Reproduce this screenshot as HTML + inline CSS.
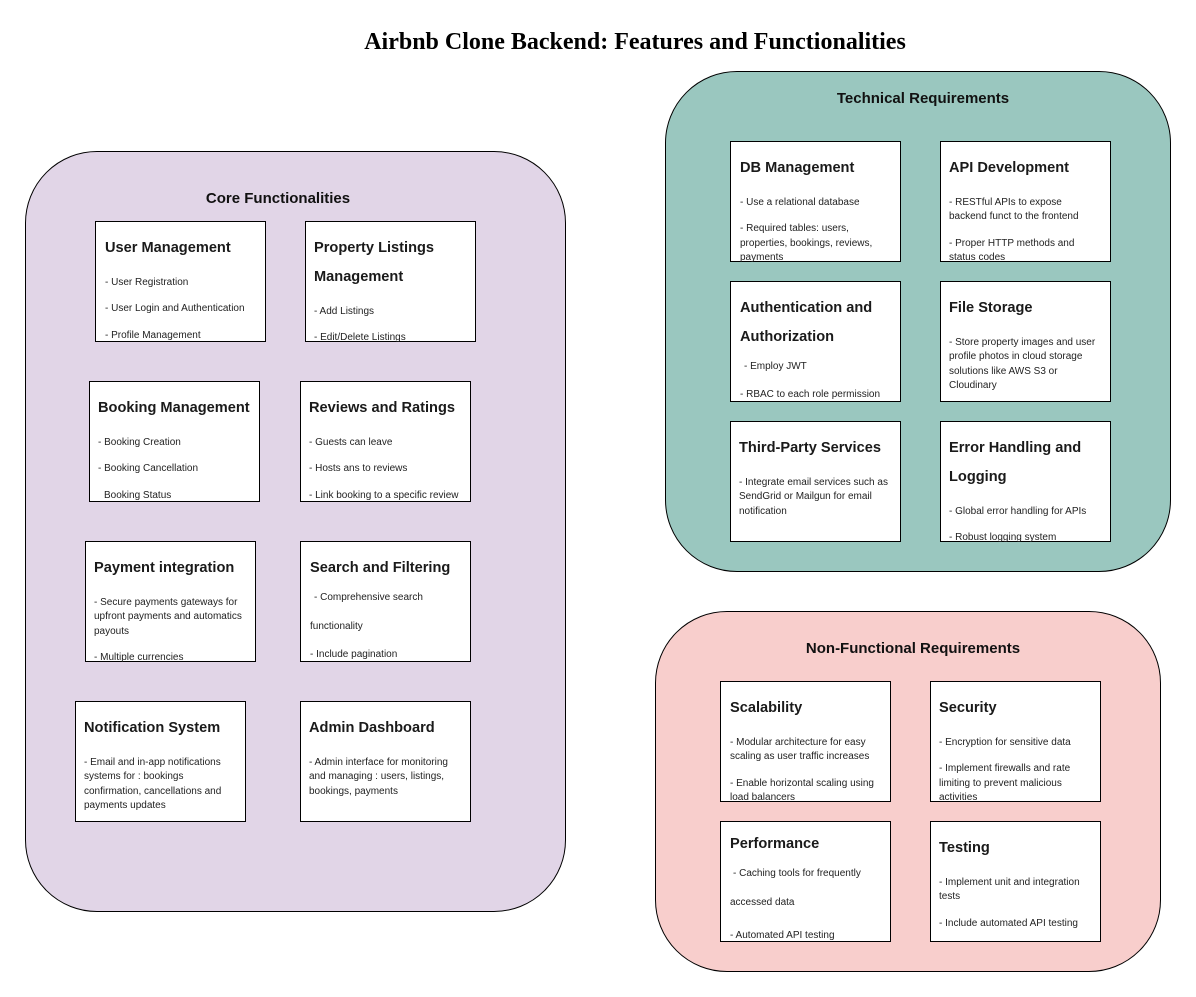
<!DOCTYPE html>
<html><head><meta charset="utf-8"><style>
body{margin:0;width:1196px;height:997px;background:#fff;position:relative;overflow:hidden;font-family:"Liberation Sans",sans-serif;color:#1a1a1a}
.c{position:absolute;border:1px solid #000;border-radius:72px;box-sizing:border-box}
.b{position:absolute;width:171px;height:121px;border:1px solid #000;background:#fff;box-sizing:border-box}
.t{position:absolute;font-weight:bold;font-size:14.6px;line-height:18px;white-space:nowrap;color:#1a1a1a;margin-top:2px}
.l{position:absolute;font-size:10px;line-height:12px;white-space:nowrap;color:#222;margin-top:2px}
.h{position:absolute;font-weight:bold;font-size:15px;line-height:18px;white-space:nowrap;transform:translateX(-50%);color:#111;margin-top:2px}
</style></head><body>
<div style="position:absolute;left:635px;top:27px;transform:translateX(-50%);font-family:'Liberation Serif',serif;font-weight:bold;font-size:24px;line-height:30px;white-space:nowrap;color:#000">Airbnb Clone Backend: Features and Functionalities</div>

<div class="c" style="left:25px;top:151px;width:541px;height:761px;background:#e1d5e7"></div>
<div class="c" style="left:665px;top:71px;width:506px;height:501px;background:#9ac7bf"></div>
<div class="c" style="left:655px;top:611px;width:506px;height:361px;background:#f8cecc"></div>

<div class="h" style="left:278px;top:188px">Core Functionalities</div>
<div class="h" style="left:923px;top:88px">Technical Requirements</div>
<div class="h" style="left:913px;top:638px">Non-Functional Requirements</div>

<div class="b" style="left:95px;top:221px"></div>
<div class="b" style="left:305px;top:221px"></div>
<div class="b" style="left:89px;top:381px"></div>
<div class="b" style="left:300px;top:381px"></div>
<div class="b" style="left:85px;top:541px"></div>
<div class="b" style="left:300px;top:541px"></div>
<div class="b" style="left:75px;top:701px"></div>
<div class="b" style="left:300px;top:701px"></div>
<div class="b" style="left:730px;top:141px"></div>
<div class="b" style="left:940px;top:141px"></div>
<div class="b" style="left:730px;top:281px"></div>
<div class="b" style="left:940px;top:281px"></div>
<div class="b" style="left:730px;top:421px"></div>
<div class="b" style="left:940px;top:421px"></div>
<div class="b" style="left:720px;top:681px"></div>
<div class="b" style="left:930px;top:681px"></div>
<div class="b" style="left:720px;top:821px"></div>
<div class="b" style="left:930px;top:821px"></div>

<!-- Core -->
<div class="t" style="left:105px;top:237px">User Management</div>
<div class="l" style="left:105px;top:275px">- User Registration</div>
<div class="l" style="left:105px;top:301px">- User Login and Authentication</div>
<div class="l" style="left:105px;top:328px">- Profile Management</div>

<div class="t" style="left:314px;top:237px">Property Listings</div>
<div class="t" style="left:314px;top:266px">Management</div>
<div class="l" style="left:314px;top:304px">- Add Listings</div>
<div class="l" style="left:314px;top:330px">- Edit/Delete Listings</div>

<div class="t" style="left:98px;top:397px">Booking Management</div>
<div class="l" style="left:98px;top:435px">- Booking Creation</div>
<div class="l" style="left:98px;top:461px">- Booking Cancellation</div>
<div class="l" style="left:104px;top:488px">Booking Status</div>

<div class="t" style="left:309px;top:397px">Reviews and Ratings</div>
<div class="l" style="left:309px;top:435px">- Guests can leave</div>
<div class="l" style="left:309px;top:461px">- Hosts ans to reviews</div>
<div class="l" style="left:309px;top:488px">- Link booking to a specific review</div>

<div class="t" style="left:94px;top:557px">Payment integration</div>
<div class="l" style="left:94px;top:595px">- Secure payments gateways for</div>
<div class="l" style="left:94px;top:609px">upfront payments and automatics</div>
<div class="l" style="left:94px;top:624px">payouts</div>
<div class="l" style="left:94px;top:650px">- Multiple currencies</div>

<div class="t" style="left:310px;top:557px">Search and Filtering</div>
<div class="l" style="left:314px;top:590px">- Comprehensive search</div>
<div class="l" style="left:310px;top:619px">functionality</div>
<div class="l" style="left:310px;top:647px">- Include pagination</div>

<div class="t" style="left:84px;top:717px">Notification System</div>
<div class="l" style="left:84px;top:755px">- Email and in-app notifications</div>
<div class="l" style="left:84px;top:769px">systems for : bookings</div>
<div class="l" style="left:84px;top:784px">confirmation, cancellations and</div>
<div class="l" style="left:84px;top:798px">payments updates</div>

<div class="t" style="left:309px;top:717px">Admin Dashboard</div>
<div class="l" style="left:309px;top:755px">- Admin interface for monitoring</div>
<div class="l" style="left:309px;top:769px">and managing : users, listings,</div>
<div class="l" style="left:309px;top:784px">bookings, payments</div>

<!-- Tech -->
<div class="t" style="left:740px;top:157px">DB Management</div>
<div class="l" style="left:740px;top:195px">- Use a relational database</div>
<div class="l" style="left:740px;top:221px">- Required tables: users,</div>
<div class="l" style="left:740px;top:236px">properties, bookings, reviews,</div>
<div class="l" style="left:740px;top:250px">payments</div>

<div class="t" style="left:949px;top:157px">API Development</div>
<div class="l" style="left:949px;top:195px">- RESTful APIs to expose</div>
<div class="l" style="left:949px;top:209px">backend funct to the frontend</div>
<div class="l" style="left:949px;top:236px">- Proper HTTP methods and</div>
<div class="l" style="left:949px;top:250px">status codes</div>

<div class="t" style="left:740px;top:297px">Authentication and</div>
<div class="t" style="left:740px;top:326px">Authorization</div>
<div class="l" style="left:744px;top:359px">- Employ JWT</div>
<div class="l" style="left:740px;top:387px">- RBAC to each role permission</div>

<div class="t" style="left:949px;top:297px">File Storage</div>
<div class="l" style="left:949px;top:335px">- Store property images and user</div>
<div class="l" style="left:949px;top:349px">profile photos in cloud storage</div>
<div class="l" style="left:949px;top:364px">solutions like AWS S3 or</div>
<div class="l" style="left:949px;top:378px">Cloudinary</div>

<div class="t" style="left:739px;top:437px">Third-Party Services</div>
<div class="l" style="left:739px;top:475px">- Integrate email services such as</div>
<div class="l" style="left:739px;top:489px">SendGrid or Mailgun for email</div>
<div class="l" style="left:739px;top:504px">notification</div>

<div class="t" style="left:949px;top:437px">Error Handling and</div>
<div class="t" style="left:949px;top:466px">Logging</div>
<div class="l" style="left:949px;top:504px">- Global error handling for APIs</div>
<div class="l" style="left:949px;top:530px">- Robust logging system</div>

<!-- NFR -->
<div class="t" style="left:730px;top:697px">Scalability</div>
<div class="l" style="left:730px;top:735px">- Modular architecture for easy</div>
<div class="l" style="left:730px;top:749px">scaling as user traffic increases</div>
<div class="l" style="left:730px;top:776px">- Enable horizontal scaling using</div>
<div class="l" style="left:730px;top:790px">load balancers</div>

<div class="t" style="left:939px;top:697px">Security</div>
<div class="l" style="left:939px;top:735px">- Encryption for sensitive data</div>
<div class="l" style="left:939px;top:761px">- Implement firewalls and rate</div>
<div class="l" style="left:939px;top:776px">limiting to prevent malicious</div>
<div class="l" style="left:939px;top:790px">activities</div>

<div class="t" style="left:730px;top:833px">Performance</div>
<div class="l" style="left:733px;top:866px">- Caching tools for frequently</div>
<div class="l" style="left:730px;top:895px">accessed data</div>
<div class="l" style="left:730px;top:928px">- Automated API testing</div>

<div class="t" style="left:939px;top:837px">Testing</div>
<div class="l" style="left:939px;top:875px">- Implement unit and integration</div>
<div class="l" style="left:939px;top:889px">tests</div>
<div class="l" style="left:939px;top:916px">- Include automated API testing</div>
</body></html>
